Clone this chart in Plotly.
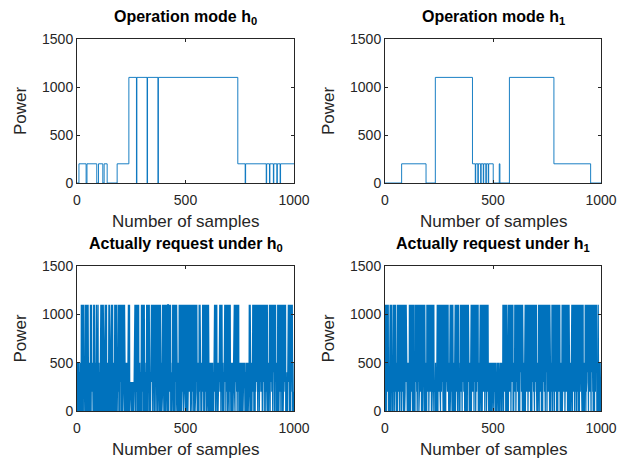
import numpy as np
import plotly.graph_objects as go

# ---------------- data ----------------
# Top panels: step functions (change-point sample index, power level from that index)
h0_mode_x = [0, 9, 42, 46, 91, 99, 119, 125, 139, 185, 239, 274, 276, 323, 325, 373, 375,
             741, 775, 777, 872, 874, 887, 889, 905, 907, 921, 923, 936, 938, 1000]
h0_mode_y = [0, 200, 0, 200, 0, 200, 0, 200, 0, 200, 1100, 0, 1100, 0, 1100, 0, 1100,
             200, 0, 200, 0, 200, 0, 200, 0, 200, 0, 200, 0, 200, 200]

h1_mode_x = [0, 77, 190, 233, 405, 418, 420, 430, 432, 443, 445, 455, 457, 467, 469, 478, 480,
             501, 529, 532, 576, 782, 952, 1000]
h1_mode_y = [0, 200, 0, 1100, 200, 0, 200, 0, 200, 0, 200, 0, 200, 0, 200, 0, 200,
             0, 200, 0, 1100, 200, 0, 0]

# Bottom panels: one character per sample, read/
LEVELS = {"0": 0, "2": 200, "3": 300, "4": 400, "5": 500, "X": 1100}

h0_request = (
    "3052403520" "4302530240" "X35X02X430" "X0352403X5" "2X04X305X3"
    "0X42035302" "40X3X05X24" "X352043X05" "3X20X54X03" "X2350X4X02"
    "3502430253" "X04X350X23" "0X5X402X35" "X03X24X053" "2045302X40"
    "X35X02X43X" "05X2X30425" "3042X0X35X" "20X4X03X52" "X4X035X20X"
    "43X5X02X3X" "05X4X23X0X" "35X0243520" "43502X4X05" "X3X0302320"
    "3020323030" "2303203X4X" "05X3X2X04X" "3X50X24035" "2043X05X3X"
    "0X4X25X03X" "X530243052" "4X03X5X20X" "3X4X502430" "520X4X3X50"
    "X2X43X05X2" "0X35X4X20X" "3X05X2X4X0" "5X24X03520" "4305X2X0X3"
    "X5X20X4X3X" "02X5X3X04X" "X3X0X52X4X" "3X05243025" "4X3X02X5X0"
    "X4X35X0X2X" "3X20435024" "0X5X3X02X4" "X0X53X2X4X" "05X2X4X3X0"
    "X3X4X0X5X2" "X0X3X5X2X4" "X2X05X3X4X" "0X5X2X3X0X" "4X3X05X2X3"
    "X5X2043502" "430X2X5X4X" "205340253X" "4X2X05X3X0" "X5X4X2X03X"
    "2X4X05X340" "2530425302" "4503250432" "05X3X2X4X0" "X3X5X20435"
    "024053X4X2" "X3X0X5X2X4" "035024305X" "2X4X3X0X5X" "4X2X03X5X3"
    "X0X4X5X230" "4253024350" "24035X2X0X" "3X5X4X2X0X" "5X3X2X0435"
    "2043502453" "0243504325" "3054023405" "2435024530" "4253X2X0X5"
    "X304520354" "X2X3X0X4X5" "X0X2X5X3X4" "X3X0X4X2X5" "0X4X3X5X2X"
    "3X2X05X4X3" "X5X0X2X3X4" "0X3X5X2X03" "4520534X2X" "0X4X3X5X2X"
    "3X0X5X4X2X" "0X3X4X5024" "35302X4X0X" "5X2X3X0X4X" "2X5X0X3X4X"
    "0X3X2X5X4X" "3X04530243" "05X2X4X3X0" "X5X3X0X2X4" "X3X2053042"
)

h1_request = (
    "302X4X0X5X" "3X2X5X0324" "05X3X0X4X2" "X3025403X2" "X5X0X3X2X4"
    "3204523X0X" "5X4X2X3X0X" "2X5X4X03X3" "X2X5X0X4X3" "X0X2X5X3X4"
    "X320543025" "340X2X5X0X" "4X3X2X5X0X" "3X4X0X2530" "X4X3X5X2X0"
    "X5X3X4X0X2" "X3X5X2X4X0" "X2X0X3X5X4" "X0X3X24053" "2430X5X2X3"
    "X4X0X5X3X2" "X5X4X0X3X2" "X3X0X5X245" "3024503420" "X5X3X0X4X2"
    "X3X5X2X0X4" "X2X3X4X5X0" "X4X2X0X3X5" "X0X5X3X4X2" "X3X2405302"
    "43X5X0X2X3" "X4X0X53024" "50352X0X4X" "3X2X5X0X4X" "2X30432053"
    "X4X2X5X0X3" "X5X3X2X4X0" "X2X4X0X3X5" "X0X3X5X243" "052430253X"
    "0X4X2X5X3X" "2X0X4X3X5X" "0X3X2X5X4X" "3X02543025" "4X3X0X5X2X"
    "0X4X3X2X5X" "3X0X5X4X2X" "0X3X5X2X43" "0524305243" "5032450342"
    "3524035425" "4305234052" "5342053424" "0352453025" "420352X3X0"
    "X5X4X2X3X0" "X4X3205243" "X0X5X2X4X3" "X2X0X5X3X4" "X3X0530425"
    "4X2X3X0X5X" "3X4X2X5X0X" "2X3X0X4X5X" "3X2X4X0X5X" "204350253X"
    "0X4X3X2X5X" "4X0X3X5X2X" "3X4X0X2X5X" "0X3X4X5X2X" "3X0X2X4X5X"
    "3X20453024" "5X3X0X4X2X" "3X5X0X2X4X" "0X3X5X4X2X" "3X0X4X5X2X"
    "0X5X3X2X4X" "3X0X435205" "243X5X0X2X" "4X3X0X5X2X" "3X4X0X2X5X"
    "0X3X4X2X5X" "3042503245" "X0X3X4X2X5" "X3X0X5X4X2" "X4X3X0X5X2"
    "X0X3X24053" "20435X4X0X" "3X2X5X4X0X" "3X5X2X0X4X" "2X3X0X5X4X"
    "0X3X2X5X4X" "3X0X5X2X04" "3520453X4X" "0X2X3X5X4X" "3X0X2X4X5X"
    "2X3X0X4X5X" "3X2X0X5X4X" "0X3X2X4X5X" "3024503X20" "4352035420"
)

titles = ["Operation mode h<sub>0</sub>", "Operation mode h<sub>1</sub>",
          "Actually request under h<sub>0</sub>", "Actually request under h<sub>1</sub>"]
x_label = "Number of samples"
y_label = "Power"
x_ticks = [0, 500, 1000]
y_ticks = [0, 500, 1000, 1500]

# ---------------- figure ----------------
W, H = 628, 460
LINE = "#0072BD"
AX = "#262626"
FONT = "Liberation Sans, Arial, Helvetica, sans-serif"

# axes boxes in pixels: (left, right, top, bottom)
boxes = [(77, 294, 39, 183), (385, 601, 39, 183), (77, 294, 266, 411), (385, 601, 266, 411)]

fig = go.Figure()

req_x0 = np.arange(len(h0_request))
req_y0 = [LEVELS[c] for c in h0_request]
req_x1 = np.arange(len(h1_request))
req_y1 = [LEVELS[c] for c in h1_request]

traces = [
    (h0_mode_x, h0_mode_y, "hv", 0.9),
    (h1_mode_x, h1_mode_y, "hv", 0.9),
    (req_x0, req_y0, "linear", 1.3),
    (req_x1, req_y1, "linear", 1.3),
]

layout = dict(width=W, height=H, autosize=False, margin=dict(l=0, r=0, t=0, b=0, pad=0),
              paper_bgcolor="white", plot_bgcolor="white", showlegend=False,
              font=dict(family=FONT, color=AX))
annotations = []

for i, ((xs, ys, shape, lw), (l, r, t, b)) in enumerate(zip(traces, boxes)):
    n = "" if i == 0 else str(i + 1)
    fig.add_trace(go.Scatter(x=xs, y=ys, mode="lines", line=dict(color=LINE, width=lw, shape=shape),
                             xaxis="x" + n, yaxis="y" + n, hoverinfo="skip"))
    common = dict(showgrid=False, zeroline=False, showline=True, linecolor=AX, linewidth=1,
                  mirror="ticks", ticks="inside", ticklen=3, tickcolor=AX, tickwidth=1,
                  automargin=False, tickfont=dict(family=FONT, size=14, color=AX))
    layout["xaxis" + n] = dict(domain=[l / W, r / W], range=[0, 1000], tickvals=x_ticks,
                               anchor="y" + n, ticklabelstandoff=4, **common)
    layout["yaxis" + n] = dict(domain=[1 - b / H, 1 - t / H], range=[0, 1500], tickvals=y_ticks,
                               anchor="x" + n, **common)
    cx = (l + r) / 2
    annotations.append(dict(text="<b>" + titles[i] + "</b>", x=cx / W, y=1 - (t - 10) / H,
                            xref="paper", yref="paper", xanchor="center", yanchor="bottom",
                            showarrow=False, font=dict(family=FONT, size=16, color="black")))
    annotations.append(dict(text=x_label, x=cx / W, y=1 - (b + 38) / H,
                            xref="paper", yref="paper", xanchor="center", yanchor="middle",
                            showarrow=False, font=dict(family=FONT, size=17, color=AX)))
    annotations.append(dict(text=y_label, x=(l - 57) / W, y=1 - (t + b) / 2 / H, textangle=-90,
                            xref="paper", yref="paper", xanchor="center", yanchor="middle",
                            showarrow=False, font=dict(family=FONT, size=17, color=AX)))

layout["annotations"] = annotations
fig.update_layout(**layout)
fig.write_html("out.html", config={"displayModeBar": False})

# remove the default page margin so the 628x460 figure fills the window exactly
with open("out.html", "r", encoding="utf-8") as f:
    html = f.read()
css = "<style>html,body{margin:0!important;padding:0!important;overflow:hidden;}</style>"
html = html.replace("<body>", "<body style=\"margin:0;padding:0\">" + css, 1)
with open("out.html", "w", encoding="utf-8") as f:
    f.write(html)
